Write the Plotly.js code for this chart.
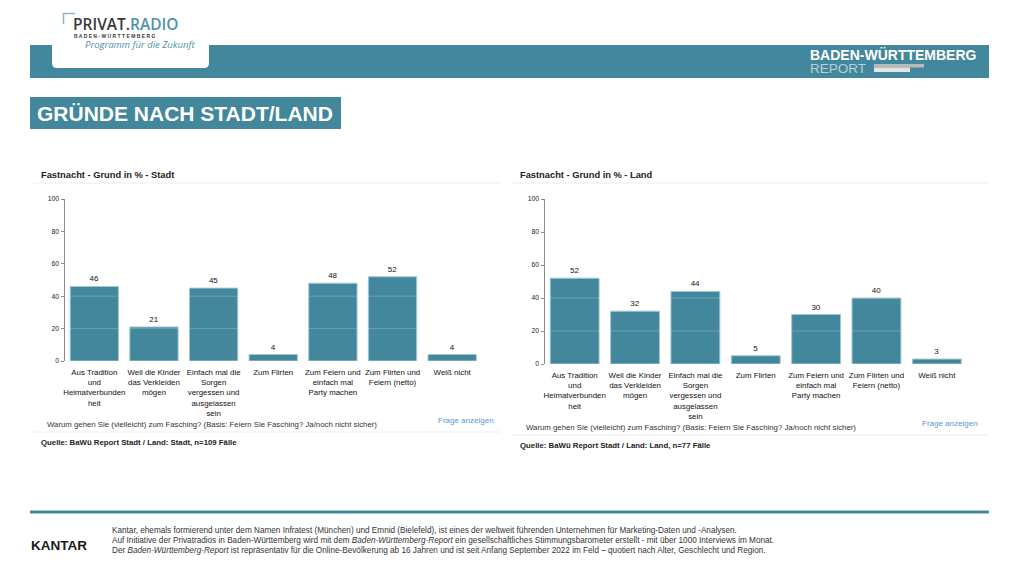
<!DOCTYPE html>
<html>
<head>
<meta charset="utf-8">
<script src="https://cdn.plot.ly/plotly-3.0.1.min.js"></script>
<style>
  html, body { margin: 0; padding: 0; background: #ffffff; }
  #chart { width: 1019px; height: 573px; }
</style>
</head>
<body>
<div id="chart"></div>
<script>
// ---------- DATA ----------
const categories = [
  "Aus Tradition<br>und<br>Heimatverbunden<br>heit",
  "Weil die Kinder<br>das Verkleiden<br>mögen",
  "Einfach mal die<br>Sorgen<br>vergessen und<br>ausgelassen<br>sein",
  "Zum Flirten",
  "Zum Feiern und<br>einfach mal<br>Party machen",
  "Zum Flirten und<br>Feiern (netto)",
  "Weiß nicht"
];
const stadtValues = [46, 21, 45, 4, 48, 52, 4];
const landValues  = [52, 32, 44, 5, 30, 40, 3];
const yTickValues = [0, 20, 40, 60, 80, 100];
const gridValues  = [20, 40, 60, 80];

const stadtTitle = "Fastnacht - Grund in % - Stadt";
const landTitle  = "Fastnacht - Grund in % - Land";
const questionText = "Warum gehen Sie (vielleicht) zum Fasching? (Basis: Feiern Sie Fasching? Ja/noch nicht sicher)";
const stadtSource = "Quelle: BaWü Report Stadt / Land: Stadt, n=109 Fälle";
const landSource  = "Quelle: BaWü Report Stadt / Land: Land, n=77 Fälle";
const footerLines = [
  "Kantar, ehemals formierend unter dem Namen Infratest (München) und Emnid (Bielefeld), ist eines der weltweit führenden Unternehmen für Marketing-Daten und -Analysen.",
  "Auf Initiative der Privatradios in Baden-Württemberg wird mit dem <i>Baden-Württemberg-Report</i> ein gesellschaftliches Stimmungsbarometer erstellt - mit über 1000 Interviews im Monat.",
  "Der <i>Baden-Württemberg-Report</i> ist repräsentativ für die Online-Bevölkerung ab 16 Jahren und ist seit Anfang September 2022 im Feld – quotiert nach Alter, Geschlecht und Region."
];

// ---------- STYLE ----------
const W = 1019, H = 573;
const TEAL = "#43879c";
const FONT = "Liberation Sans, Arial, sans-serif";
const px = x => x / W;
const py = y => 1 - y / H;

function barTrace(values, xa, ya) {
  return {
    type: "bar",
    x: categories,
    y: values,
    xaxis: xa,
    yaxis: ya,
    text: values.map(String),
    textposition: "outside",
    cliponaxis: false,
    textfont: { family: FONT, size: 8, color: "#111" },
    marker: { color: TEAL, line: { color: "#a3c8d4", width: 1 } },
    hoverinfo: "skip",
    showlegend: false
  };
}

const xAxisBase = {
  type: "category",
  showline: false,
  showgrid: false,
  zeroline: false,
  ticks: "",
  tickangle: 0,
  ticklabelstandoff: 5,
  tickfont: { family: FONT, size: 7.9, color: "#111" },
  fixedrange: true
};
const yAxisBase = {
  range: [0, 100],
  tickvals: yTickValues,
  showline: true,
  linecolor: "#8a8a8a",
  linewidth: 1,
  ticks: "outside",
  ticklen: 3,
  tickcolor: "#8a8a8a",
  showgrid: false,
  zeroline: false,
  tickfont: { family: FONT, size: 6.8, color: "#222" },
  fixedrange: true
};

const shapes = [];
// Header band
shapes.push({ type: "rect", xref: "paper", yref: "paper", x0: px(30), x1: px(989), y0: py(78), y1: py(45), fillcolor: TEAL, line: { width: 0 }, layer: "below" });
// White logo card with rounded bottom corners
(function () {
  const l = px(52), r = px(209), t = py(0), b = py(68);
  const rx = 5 / W, ry = 5 / H;
  shapes.push({
    type: "path", xref: "paper", yref: "paper",
    path: `M ${l} ${t} L ${r} ${t} L ${r} ${b + ry} Q ${r} ${b} ${r - rx} ${b} L ${l + rx} ${b} Q ${l} ${b} ${l} ${b + ry} Z`,
    fillcolor: "#ffffff", line: { width: 0 }, layer: "below"
  });
})();
// Logo bracket
shapes.push({ type: "path", xref: "paper", yref: "paper", path: `M ${px(63.5)} ${py(24)} L ${px(63.5)} ${py(13.5)} L ${px(75)} ${py(13.5)}`, line: { color: "#8bb7c6", width: 1.5 } });
// Report bars in header
shapes.push({ type: "rect", xref: "paper", yref: "paper", x0: px(874), x1: px(924), y0: py(67.5), y1: py(64), fillcolor: "#b9b9b9", line: { width: 0 } });
shapes.push({ type: "rect", xref: "paper", yref: "paper", x0: px(874), x1: px(910), y0: py(72), y1: py(67.5), fillcolor: "#e4e4e4", line: { width: 0 } });
// Title box
shapes.push({ type: "rect", xref: "paper", yref: "paper", x0: px(30), x1: px(341), y0: py(129), y1: py(97), fillcolor: TEAL, line: { width: 0 }, layer: "below" });
// Chart title underlines and separator lines
shapes.push({ type: "line", xref: "paper", yref: "paper", x0: px(33), x1: px(500), y0: py(183), y1: py(183), line: { color: "#ececec", width: 1 } });
shapes.push({ type: "line", xref: "paper", yref: "paper", x0: px(512), x1: px(987), y0: py(183), y1: py(183), line: { color: "#ececec", width: 1 } });
shapes.push({ type: "line", xref: "paper", yref: "paper", x0: px(33), x1: px(500), y0: py(432), y1: py(432), line: { color: "#ececec", width: 1 } });
shapes.push({ type: "line", xref: "paper", yref: "paper", x0: px(512), x1: px(987), y0: py(435), y1: py(435), line: { color: "#ececec", width: 1 } });
// Footer line
shapes.push({ type: "line", xref: "paper", yref: "paper", x0: px(30), x1: px(989), y0: py(512), y1: py(512), line: { color: TEAL, width: 3 } });
// Gridlines drawn over bars (faint white)
[["x", "y"], ["x2", "y2"]].forEach(([xa, ya]) => {
  gridValues.forEach(v => {
    shapes.push({ type: "line", xref: xa + " domain", yref: ya, x0: 0, x1: 1, y0: v, y1: v, line: { color: "rgba(255,255,255,0.22)", width: 1 }, layer: "above" });
  });
});

function ann(text, x, y, opts) {
  return Object.assign({
    text: text, xref: "paper", yref: "paper", x: px(x), y: py(y),
    xanchor: "left", yanchor: "middle", showarrow: false,
    font: { family: FONT, size: 8, color: "#222" }
  }, opts || {});
}

const annotations = [
  // Logo
  ann('<span style="color:#3a3a3a">PRIVAT.</span><span style="color:#4d93aa">RADIO</span>', 71, 24, { font: { family: "Open Sans, sans-serif", size: 15.5, weight: 600, color: "#3a3a3a" } }),
  ann("B A D E N - W Ü R T T E M B E R G", 72, 36, { font: { family: FONT, size: 5, weight: 700, color: "#3a3a3a" } }),
  ann("<i>Programm für die Zukunft</i>", 83, 44.5, { font: { family: "Open Sans, sans-serif", size: 9.5, color: "#4d93aa" } }),
  // Header right
  ann("<b>BADEN-WÜRTTEMBERG</b>", 808, 55, { font: { family: FONT, size: 14, color: "#ffffff" } }),
  ann("REPORT", 808, 69, { font: { family: FONT, size: 13.5, color: "#b7cfd7" } }),
  // Page title
  ann("<b>GRÜNDE NACH STADT/LAND</b>", 35, 113.5, { font: { family: FONT, size: 21, color: "#ffffff" } }),
  // Chart titles
  ann("<b>" + stadtTitle + "</b>", 39, 175, { font: { family: FONT, size: 9.3, color: "#222" } }),
  ann("<b>" + landTitle + "</b>", 518, 174.5, { font: { family: FONT, size: 9.3, color: "#222" } }),
  // Questions
  ann(questionText, 45, 424, { font: { family: FONT, size: 7.8, color: "#333" } }),
  ann(questionText, 524, 427.5, { font: { family: FONT, size: 7.8, color: "#333" } }),
  ann("Frage anzeigen", 436, 420, { font: { family: FONT, size: 8, color: "#5b97cf" } }),
  ann("Frage anzeigen", 920, 423.5, { font: { family: FONT, size: 8, color: "#5b97cf" } }),
  // Sources
  ann("<b>" + stadtSource + "</b>", 39, 442, { font: { family: FONT, size: 7.8, color: "#222" } }),
  ann("<b>" + landSource + "</b>", 518, 445.5, { font: { family: FONT, size: 7.8, color: "#222" } }),
  // Footer
  ann("<b>KANTAR</b>", 29, 545, { font: { family: FONT, size: 13.5, color: "#1a1a1a" } })
];
footerLines.forEach((t, i) => {
  annotations.push(ann(t, 110, 530 + i * 10, { font: { family: FONT, size: 8.2, color: "#333" } }));
});

const layout = {
  width: W,
  height: H,
  margin: { l: 0, r: 0, t: 0, b: 0, pad: 0 },
  paper_bgcolor: "#ffffff",
  plot_bgcolor: "rgba(0,0,0,0)",
  bargap: 0.19,
  showlegend: false,
  xaxis: Object.assign({}, xAxisBase, { domain: [px(64.5), px(482)], anchor: "y" }),
  yaxis: Object.assign({}, yAxisBase, { domain: [py(361), py(199)], anchor: "x" }),
  xaxis2: Object.assign({}, xAxisBase, { domain: [px(544.5), px(967)], anchor: "y2" }),
  yaxis2: Object.assign({}, yAxisBase, { domain: [py(364), py(199)], anchor: "x2" }),
  shapes: shapes,
  annotations: annotations
};

Plotly.newPlot("chart", [
  barTrace(stadtValues, "x", "y"),
  barTrace(landValues, "x2", "y2")
], layout, { displayModeBar: false, staticPlot: true });
</script>
</body>
</html>
